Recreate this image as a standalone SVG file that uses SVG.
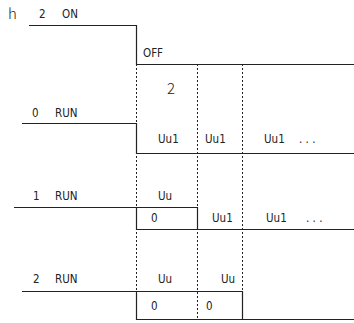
<svg xmlns="http://www.w3.org/2000/svg" width="354" height="323" viewBox="0 0 354 323">
<style>
text{font-family:"DejaVu Sans Condensed","Liberation Sans",Arial,sans-serif;font-stretch:condensed;font-size:11.5px;fill:#222}
.big{font-family:"Noto Sans CJK JP","DejaVu Sans",sans-serif;font-size:15px;font-weight:300}
.s{fill:none;stroke:#222;stroke-width:1.2}
.d{fill:none;stroke:#222;stroke-width:1;stroke-dasharray:2,2}
</style>
<rect width="354" height="323" fill="#fff"/>
<g id="connectors">
<path class="d" d="M136.5 64V319 M197.5 64V319 M242.5 64V291"/>
</g>
<g id="power">
<text class="big" x="8" y="19">h</text>
<text x="39" y="18">2</text>
<text x="62" y="18">ON</text>
<path class="s" d="M29 25.5H136.5V64.5H354"/>
<text x="143" y="57">OFF</text>
<text class="big" x="167" y="94">2</text>
</g>
<g id="run0">
<text x="32" y="117">0</text>
<text x="55" y="117">RUN</text>
<path class="s" d="M22 123.5H136.5V153.5H354"/>
<text x="158" y="143">Uu1</text>
<text x="205" y="143">Uu1</text>
<text x="264" y="143">Uu1</text>
<text x="299" y="143">. . .</text>
</g>
<g id="run1">
<text x="33" y="200">1</text>
<text x="55" y="200">RUN</text>
<path class="s" d="M14 207.5H197.5V229.5 M136.5 207.5V229.5H354"/>
<text x="158" y="200">Uu</text>
<text x="151" y="222">0</text>
<text x="212" y="222">Uu1</text>
<text x="266" y="222">Uu1</text>
<text x="306" y="222">. . .</text>
</g>
<g id="run2">
<text x="33" y="283">2</text>
<text x="55" y="283">RUN</text>
<path class="s" d="M22 291.5H242.5V319.5 M136.5 291.5V319.5H354"/>
<text x="158" y="283">Uu</text>
<text x="221" y="283">Uu</text>
<text x="151" y="310">0</text>
<text x="206" y="310">0</text>
</g>
</svg>
